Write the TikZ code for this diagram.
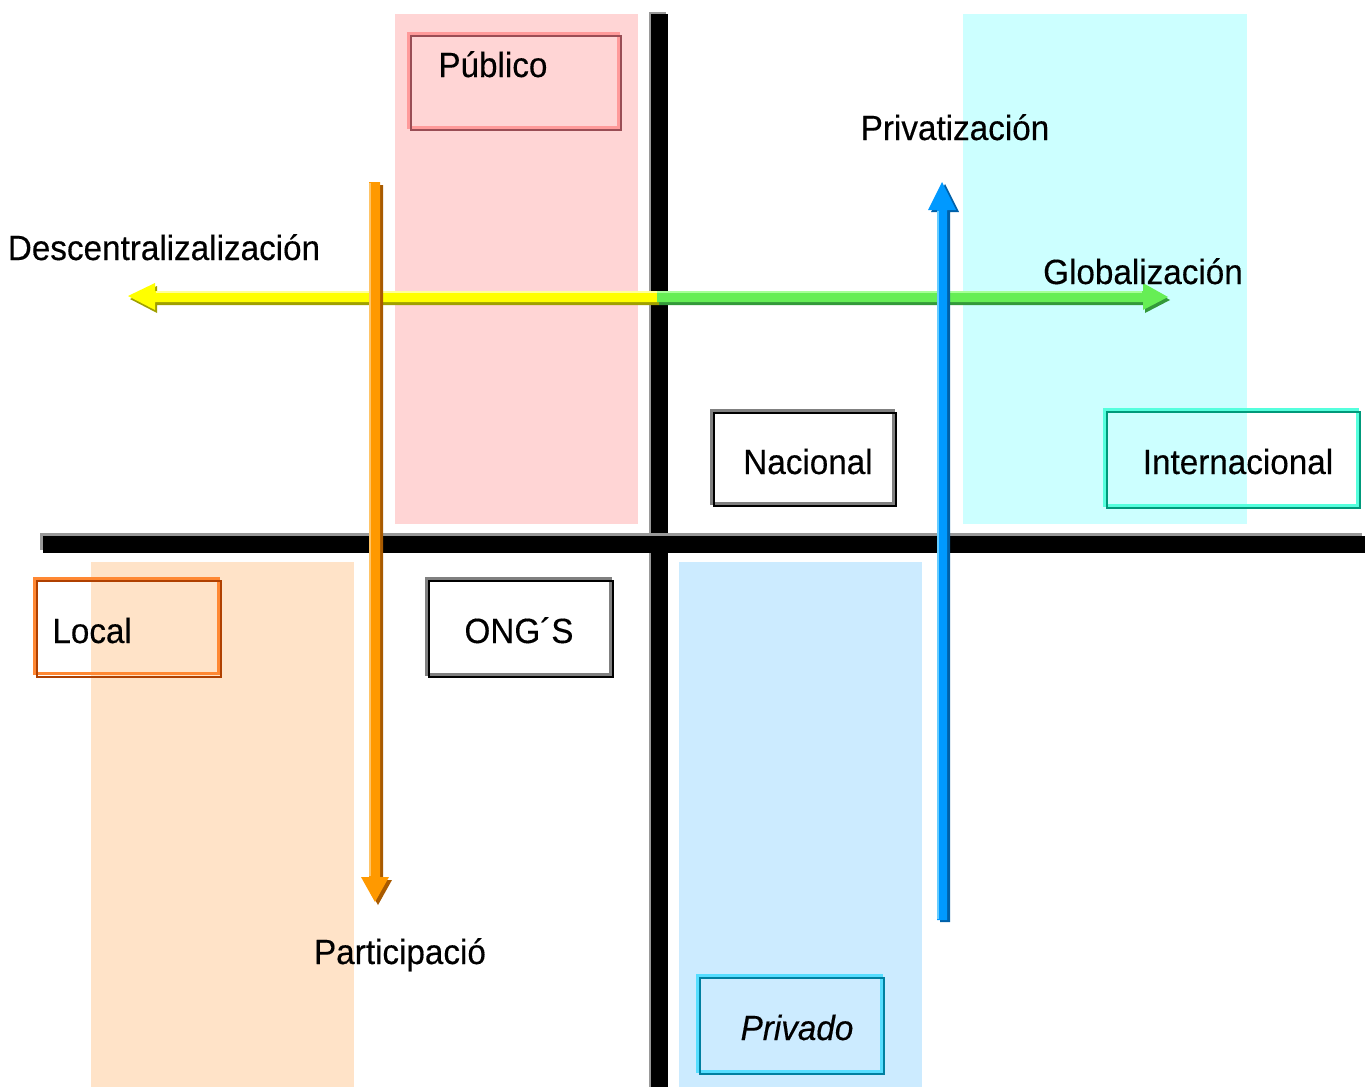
\documentclass[tikz,border=0pt]{standalone}
\usepackage{fontspec}
\setmainfont{Liberation Sans}[FakeStretch=0.95,FakeBold=0.3]
\definecolor{pinkbg}{HTML}{FFD5D5}
\definecolor{cyanbg}{HTML}{CCFFFF}
\definecolor{peachbg}{HTML}{FFE3C8}
\definecolor{bluebg}{HTML}{CCEBFF}
\definecolor{pubA}{HTML}{FF9A9A}
\definecolor{pubB}{HTML}{9A4D55}
\definecolor{intA}{HTML}{55FFDD}
\definecolor{intB}{HTML}{00997A}
\definecolor{locA}{HTML}{FF8833}
\definecolor{locB}{HTML}{B04000}
\definecolor{priA}{HTML}{55DDFF}
\definecolor{priB}{HTML}{007FA0}
\definecolor{yelM}{HTML}{FFFF00}
\definecolor{yelS}{HTML}{A0A000}
\definecolor{yelH}{HTML}{FFFF99}
\definecolor{grnM}{HTML}{66EE55}
\definecolor{grnS}{HTML}{33993A}
\definecolor{grnH}{HTML}{A8FF99}
\definecolor{bluM}{HTML}{0099FF}
\definecolor{bluS}{HTML}{0060A8}
\definecolor{bluH}{HTML}{66CCFF}
\definecolor{oraM}{HTML}{FF9900}
\definecolor{oraS}{HTML}{A85A00}
\definecolor{oraH}{HTML}{FFC466}
\tikzset{
  lab/.style={anchor=base, inner sep=0pt, font=\fontsize{17.5}{21}\selectfont},
  boxA/.style={draw=#1, line width=1.5pt},
  boxB/.style={draw=#1, line width=1pt},
  bar/.style={fill=black},
  barshadow/.style={fill=gray!80},
}
\begin{document}
\begin{tikzpicture}[x=0.5pt,y=-0.5pt]
\useasboundingbox (0,0) rectangle (1367,1087);
% background bands
\fill[pinkbg] (395,14) rectangle (638,524);
\fill[cyanbg] (963,14) rectangle (1247,524);
\fill[peachbg] (91,562) rectangle (354,1087);
\fill[bluebg] (679,562) rectangle (922,1087);
% axes
\fill[barshadow] (649,12) rectangle (666,1087);
\fill[bar] (651,14) rectangle (668,1087);
\fill[barshadow] (40,533) rectangle (1362,550);
\fill[bar] (43,536) rectangle (1365,553);
% left (yellow) arrow
\fill[yelS, shift={(2,3)}] (657,291) -- (155,291) -- (155,283) -- (128,296) -- (155,310) -- (155,302) -- (657,302) -- cycle;
\fill[yelM] (657,291) -- (155,291) -- (155,283) -- (128,296) -- (155,310) -- (155,302) -- (657,302) -- cycle;
\draw[yelH, line width=1pt] (657,292) -- (156,292);
% right (green) arrow
\fill[grnS, shift={(2,3)}] (657,291) -- (1143,291) -- (1143,283) -- (1168,297) -- (1143,310) -- (1143,302) -- (657,302) -- cycle;
\fill[grnM] (657,291) -- (1143,291) -- (1143,283) -- (1168,297) -- (1143,310) -- (1143,302) -- (657,302) -- cycle;
\draw[grnH, line width=1pt] (657,292) -- (1142,292);
% orange arrow (down)
\fill[oraS, shift={(3,3)}] (369,182) -- (369,877) -- (361,877) -- (375,902) -- (389,877) -- (380,877) -- (380,182) -- cycle;
\fill[oraM] (369,182) -- (369,877) -- (361,877) -- (375,902) -- (389,877) -- (380,877) -- (380,182) -- cycle;
\draw[oraH, line width=1pt] (370,183) -- (370,876);
% blue arrow (up)
\fill[bluS, shift={(3,2)}] (937,920) -- (937,210) -- (928,210) -- (942,182) -- (956,210) -- (947,210) -- (947,920) -- cycle;
\fill[bluM] (937,920) -- (937,210) -- (928,210) -- (942,182) -- (956,210) -- (947,210) -- (947,920) -- cycle;
\draw[bluH, line width=1pt] (938,919) -- (938,211);
% boxes
\draw[boxA=pubA] (408,33) rectangle (618,127);
\draw[boxB=pubB] (411,36) rectangle (621,130);
\draw[boxA=gray] (711,410) rectangle (893,503);
\draw[boxB=black] (714,413) rectangle (896,506);
\draw[boxA=intA] (1104,409) rectangle (1357,505);
\draw[boxB=intB] (1107,412) rectangle (1360,508);
\draw[boxA=locA] (34,578) rectangle (218,673);
\draw[boxB=locB] (37,581) rectangle (221,677);
\draw[boxA=gray] (426,578) rectangle (610,674);
\draw[boxB=black] (429,581) rectangle (613,677);
\draw[boxA=priA] (697,975) rectangle (881,1071);
\draw[boxB=priB] (700,978) rectangle (884,1074);
% labels
\node[lab, anchor=base west] (publico) at (438,77) {Público};
\node[lab] (privatizacion) at (955,140) {Privatización};
\node[lab] (descentral) at (164,260) {Descentralizalización};
\node[lab] (globalizacion) at (1143,284) {Globalización};
\node[lab] (nacional) at (808,474) {Nacional};
\node[lab] (internacional) at (1238,474) {Internacional};
\node[lab, anchor=base west] (local) at (52,643) {Local};
\node[lab] (ongs) at (519,643) {ONG´S};
\node[lab] (participacio) at (400,964) {Participació};
\node[lab, font=\fontsize{17.5}{21}\selectfont\itshape] (privado) at (797,1040) {Privado};
\end{tikzpicture}
\end{document}
